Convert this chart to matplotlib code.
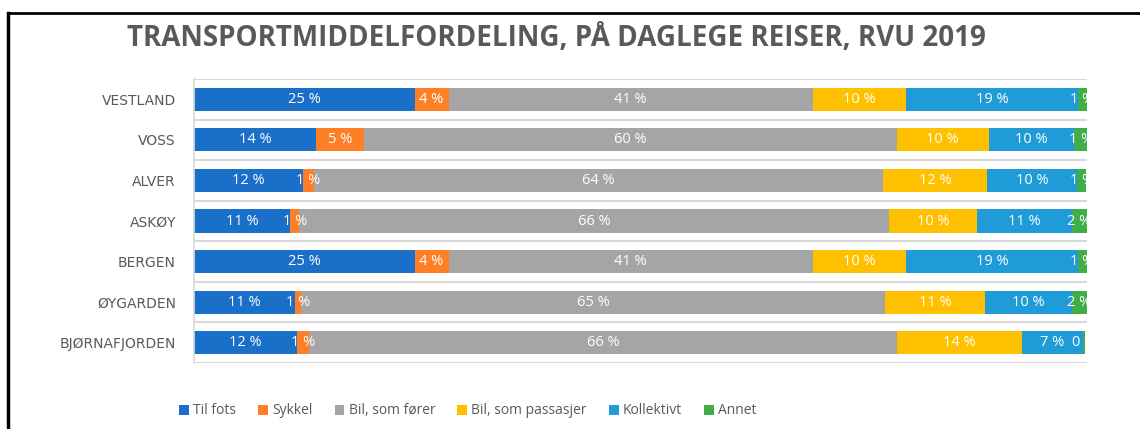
import matplotlib
matplotlib.use("Agg")
import matplotlib.pyplot as plt
from matplotlib.lines import Line2D
from matplotlib.patches import Patch

categories = ["VESTLAND", "VOSS", "ALVER", "ASKØY", "BERGEN", "ØYGARDEN", "BJØRNAFJORDEN"]
series_names = ["Til fots", "Sykkel", "Bil, som fører", "Bil, som passasjer", "Kollektivt", "Annet"]
til_fots = [24.7, 13.7, 12.2, 10.8, 24.7, 11.3, 11.5]
sykkel = [3.8, 5.3, 1.2, 1.0, 3.8, 0.7, 1.4]
bil_forer = [40.8, 59.7, 63.8, 66.0, 40.8, 65.4, 65.8]
bil_passasjer = [10.4, 10.3, 11.6, 9.9, 10.4, 11.2, 14.0]
kollektivt = [19.3, 9.6, 10.1, 10.6, 19.3, 9.7, 6.8]
annet = [1.0, 1.4, 1.0, 1.7, 1.0, 1.7, 0.3]
title = "TRANSPORTMIDDELFORDELING, PÅ DAGLEGE REISER, RVU 2019"

series = [til_fots, sykkel, bil_forer, bil_passasjer, kollektivt, annet]
colors = ["#1A70C8", "#FF7F27", "#A5A5A5", "#FFC000", "#1F9CD8", "#3FAE49"]
text_gray = "#595959"

fig = plt.figure(figsize=(11.4, 4.29), dpi=100)
ax = fig.add_axes([194/1140, 1-363/429, (1087-194)/1140, (363-79)/429])

n = len(categories)
ypos = list(range(n))
left = [0.0]*n
for vals, name, col in zip(series, series_names, colors):
    ax.barh(ypos, vals, left=left, height=0.57, color=col, label=name, zorder=2)
    for i, v in enumerate(vals):
        ax.text(left[i] + v/2, ypos[i], f"{v:.0f} %", ha="center", va="center",
                color="white", fontsize=10.5, family="Open Sans", zorder=3,
                clip_on=True)
    left = [l + v for l, v in zip(left, vals)]

ax.set_xlim(0, 100)
ax.set_ylim(n - 0.5, -0.5)
ax.set_yticks(ypos)
ax.set_yticklabels(categories, family="DejaVu Sans", fontsize=10, color=text_gray)
ax.tick_params(axis="y", length=0, pad=13)
ax.set_xticks([])
for b in [k - 0.5 for k in range(n + 1)]:
    ax.axhline(b, color="#D9D9D9", lw=1.5, zorder=1)
for s in ["top", "right", "bottom"]:
    ax.spines[s].set_visible(False)
ax.spines["left"].set_color("#D9D9D9")
ax.spines["left"].set_linewidth(1.2)

fig.text(556/1140, 1-38/429, title, ha="center", va="center", fontsize=20,
         fontweight="bold", family="Open Sans", color=text_gray)

handles = [Patch(facecolor=c, edgecolor="none") for c in colors]
leg = fig.legend(handles, series_names, loc="center", bbox_to_anchor=(468/1140, 1-411/429),
                 ncol=6, frameon=False, handlelength=0.7, handleheight=0.7,
                 handletextpad=0.3, columnspacing=1.6,
                 prop={"family": "Open Sans", "size": 10})
for t in leg.get_texts():
    t.set_color(text_gray)

# frame border (top and left) as in the screenshot
fig.add_artist(Line2D([8/1140, 1], [1-13/429, 1-13/429], color="black", lw=2))
fig.add_artist(Line2D([8/1140, 8/1140], [0, 1-13/429], color="black", lw=2.5))

fig.savefig("out.png", dpi=100)
